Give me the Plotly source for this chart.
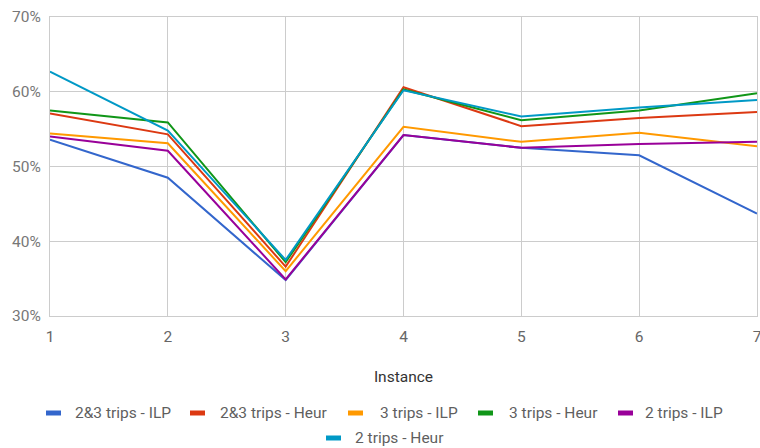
import plotly.graph_objects as go

instances = [1, 2, 3, 4, 5, 6, 7]

series_names = [
    "2&3 trips - ILP",
    "2&3 trips - Heur",
    "3 trips - ILP",
    "3 trips - Heur",
    "2 trips - ILP",
    "2 trips - Heur",
]

trips23_ilp = [0.536, 0.485, 0.348, 0.542, 0.525, 0.515, 0.437]
trips23_heur = [0.571, 0.543, 0.366, 0.606, 0.554, 0.565, 0.573]
trips3_ilp = [0.544, 0.531, 0.360, 0.553, 0.533, 0.545, 0.527]
trips3_heur = [0.575, 0.559, 0.372, 0.603, 0.562, 0.575, 0.598]
trips2_ilp = [0.540, 0.521, 0.349, 0.542, 0.525, 0.530, 0.533]
trips2_heur = [0.627, 0.548, 0.375, 0.602, 0.567, 0.579, 0.589]

series_values = [trips23_ilp, trips23_heur, trips3_ilp, trips3_heur, trips2_ilp, trips2_heur]
colors = ["#3366cc", "#dc3912", "#ff9900", "#109618", "#990099", "#0099c6"]

y_ticks = [0.3, 0.4, 0.5, 0.6, 0.7]

# Canvas and plot-area geometry (pixels)
W, H = 760, 448
M_L, M_R, M_T, M_B = 50, 3, 17, 132
PW = W - M_L - M_R
PH = H - M_T - M_B


def px_x(px):
    return (px - M_L) / PW


def px_y(py):
    return (H - M_B - py) / PH


# Legend layout: (key left edge, text left edge, row centre) in pixels
legend_slots = [
    (46, 73, 413),
    (190, 218, 413),
    (348, 378, 413),
    (478, 507, 413),
    (618, 643, 413),
    (326, 353, 438),
]
KEY_W, KEY_H = 15, 5

fig = go.Figure()

for name, vals, col in zip(series_names, series_values, colors):
    fig.add_trace(go.Scatter(
        x=instances, y=vals, mode="lines", name=name,
        line=dict(color=col, width=2),
        showlegend=False,
    ))

shapes = []
annotations = []
for name, col, (kx, tx, cy) in zip(series_names, colors, legend_slots):
    shapes.append(dict(
        type="rect", xref="paper", yref="paper",
        x0=px_x(kx), x1=px_x(kx + KEY_W),
        y0=px_y(cy + KEY_H / 2), y1=px_y(cy - KEY_H / 2),
        fillcolor=col, line=dict(width=0),
    ))
    annotations.append(dict(
        xref="paper", yref="paper", x=px_x(tx), y=px_y(cy),
        xanchor="left", yanchor="middle", showarrow=False,
        text=name, font=dict(family="Roboto", size=15.5, color="#5f5f5f"),
    ))

fig.update_layout(
    width=W, height=H,
    margin=dict(l=M_L, r=M_R, t=M_T, b=M_B, autoexpand=False),
    paper_bgcolor="white", plot_bgcolor="white",
    font=dict(family="Roboto", size=15.5, color="#666666"),
    showlegend=False,
    shapes=shapes,
    annotations=annotations,
    xaxis=dict(
        range=[1, 7], tickvals=instances, ticktext=[str(i) for i in instances],
        showgrid=True, gridcolor="#cccccc", gridwidth=1,
        zeroline=False, showline=True, mirror=True, linecolor="#cccccc", linewidth=1,
        ticks="", ticklabelstandoff=6, ticklabeloverflow="allow",
        tickfont=dict(color="#666666", size=15.5),
        title=dict(text="Instance", font=dict(color="#333333", size=15.5), standoff=26),
    ),
    yaxis=dict(
        range=[0.3, 0.7], tickvals=y_ticks, tickformat=".0%",
        showgrid=True, gridcolor="#cccccc", gridwidth=1,
        zeroline=False, showline=True, mirror=True, linecolor="#cccccc", linewidth=1,
        ticks="", ticklabelstandoff=5,
        tickfont=dict(color="#777777", size=15.5),
    ),
)

fig.write_html("out.html")
